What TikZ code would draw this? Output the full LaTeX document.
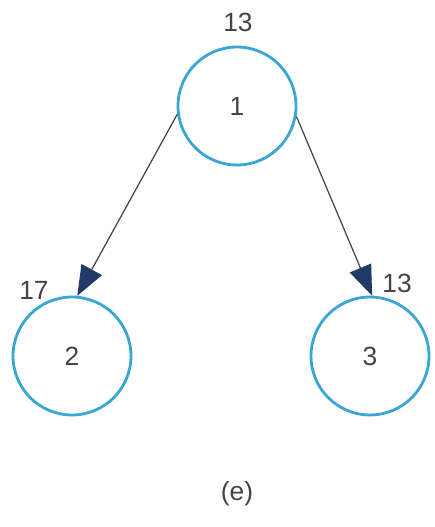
\documentclass[tikz,border=0pt]{standalone}
\usepackage{fontspec}
\setmainfont{Liberation Sans}
\usetikzlibrary{arrows.meta}
\definecolor{ringblue}{HTML}{3AA6D6}
\definecolor{labelgray}{HTML}{444444}
\definecolor{tipnavy}{HTML}{1F3B66}
\begin{document}
\begin{tikzpicture}[x=0.02cm,y=-0.02cm,
  vertex/.style={circle,draw=ringblue,line width=1.6pt,minimum size=2.36cm,inner sep=0pt,
    text=labelgray,font=\fontsize{15}{17}\selectfont},
  weight/.style={text=labelgray,font=\fontsize{15}{17}\selectfont,inner sep=0pt},
  edge/.style={draw=labelgray,line width=0.7pt,
    -{Triangle[length=0.6cm,width=0.46cm,fill=tipnavy,color=tipnavy]}}]
\useasboundingbox (0,0) rectangle (435,527);
\fill[white] (0,0) rectangle (435,527);
\node[vertex] (n1) at (237,106) {1};
\node[vertex] (n2) at (72,356) {2};
\node[vertex] (n3) at (370,356) {3};
\node[weight] (w1) at (238,22) {13};
\node[weight] (w2) at (34,290) {17};
\node[weight] (w3) at (397,283) {13};
\node[weight] (cap) at (237,494) {(e)};
\path[edge] (n1.188) -- (n2.85);
\path[edge] (n1.350) -- (n3.88);
\end{tikzpicture}
\end{document}
